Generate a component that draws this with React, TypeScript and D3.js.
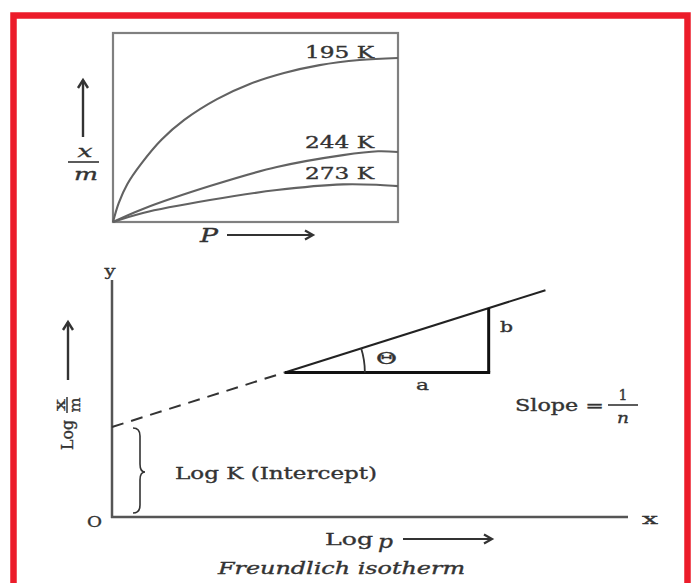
import React from "react";
import * as d3 from "d3";

// Upper panel: x/m versus p at three temperatures (0-100 units)
const P_195 = [0, 2, 5, 10, 17, 25, 36.5, 48, 60, 72.5, 86.5, 100];
const XM_195 = [0, 10, 20, 31, 43.5, 54, 65, 73, 78.8, 83, 85.7, 86.8];
const P_244 = [0, 10.5, 34, 57.5, 80.7, 93, 100];
const XM_244 = [0, 6.9, 19, 29.1, 35.4, 37.4, 37];
const P_273 = [0, 10.5, 34, 57.5, 80.7, 93.7, 100];
const XM_273 = [0, 4.8, 11.6, 16.9, 19.9, 19.6, 19];
const TEMPS = ["195 K", "244 K", "273 K"];

// Lower panel: log x/m versus log p (Freundlich line)
const LOGP_DASH = [0, 33.5];
const LOGXM_DASH = [38, 61];
const LOGP_SOLID = [33.5, 84];
const LOGXM_SOLID = [61, 95.7];
const TRI_LOGP = [33.5, 73];
const TRI_LOGXM = [61, 88.2];

const FONT = "'DejaVu Serif', 'Liberation Serif', serif";
const INK = "#333";

type TP = {
  x: number; y: number; len?: number; anchor?: string; italic?: boolean;
  size?: number; children: React.ReactNode; fill?: string;
};
const T = ({ x, y, len, anchor = "start", italic, size = 16, children, fill = INK }: TP) => (
  <text
    x={x}
    y={y}
    textLength={len}
    lengthAdjust={len ? "spacingAndGlyphs" : undefined}
    textAnchor={anchor}
    dominantBaseline="central"
    fontFamily={FONT}
    fontStyle={italic ? "italic" : "normal"}
    fontSize={size}
    fill={fill}
    stroke={fill}
    strokeWidth={0.35}
  >
    {children}
  </text>
);

const ArrowH = ({ x1, x2, y }: { x1: number; x2: number; y: number }) => (
  <g stroke={INK} strokeWidth={2} fill="none">
    <line x1={x1} y1={y} x2={x2} y2={y} />
    <path d={`M${x2 - 8},${y - 4.5} L${x2},${y} L${x2 - 8},${y + 4.5}`} strokeWidth={2.2} />
  </g>
);
const ArrowV = ({ x, y1, y2 }: { x: number; y1: number; y2: number }) => (
  <g stroke={INK} strokeWidth={2.4} fill="none">
    <line x1={x} y1={y2} x2={x} y2={y1} />
    <path d={`M${x - 5},${y1 + 8} L${x},${y1} L${x + 5},${y1 + 8}`} />
  </g>
);

export default function App() {
  const xs = d3.scaleLinear().domain([0, 100]).range([113, 398]);
  const ys = d3.scaleLinear().domain([0, 100]).range([222, 33]);
  const lx = d3.scaleLinear().domain([0, 100]).range([112, 628]);
  const ly = d3.scaleLinear().domain([0, 100]).range([517, 280]);

  const curve = d3
    .line<[number, number]>()
    .x((d) => xs(d[0]))
    .y((d) => ys(d[1]))
    .curve(d3.curveCatmullRom.alpha(0.5));
  const series = [
    d3.zip(P_195, XM_195) as [number, number][],
    d3.zip(P_244, XM_244) as [number, number][],
    d3.zip(P_273, XM_273) as [number, number][],
  ];
  const labelY = [52, 142, 173];

  const lin = d3
    .line<[number, number]>()
    .x((d) => lx(d[0]))
    .y((d) => ly(d[1]));
  const dash = d3.zip(LOGP_DASH, LOGXM_DASH) as [number, number][];
  const solid = d3.zip(LOGP_SOLID, LOGXM_SOLID) as [number, number][];

  const vx = lx(TRI_LOGP[0]);
  const vy = ly(TRI_LOGXM[0]);
  const rx = lx(TRI_LOGP[1]);
  const ty = ly(TRI_LOGXM[1]);
  const ang = Math.atan2(vy - ty, rx - vx);
  const r = 80;
  const arc = `M${vx + r},${vy} A${r},${r} 0 0 0 ${vx + r * Math.cos(ang)},${vy - r * Math.sin(ang)}`;

  const y0 = ly(0);
  const yK = ly(LOGXM_DASH[0]);

  return (
    <svg
      width={694}
      height={583}
      style={{ position: "absolute", left: 0, top: 0, background: "#fff" }}
    >
      <rect x={0} y={0} width={694} height={583} fill="#fff" />
      {/* red frame */}
      <path d="M13.5,590 L13.5,15.5 L687.5,15.5 L687.5,590" fill="none" stroke="#ec1c2a" strokeWidth={6.5} />

      {/* upper panel */}
      <rect x={113} y={33} width={285} height={189} fill="none" stroke="#808080" strokeWidth={2.2} />
      {series.map((s, i) => (
        <path key={i} d={curve(s) || ""} fill="none" stroke="#626262" strokeWidth={2.1} />
      ))}
      {TEMPS.map((t, i) => (
        <T key={t} x={305} y={labelY[i]} len={69}>{t}</T>
      ))}
      <ArrowV x={83} y1={80} y2={137} />
      <T x={85} y={151} anchor="middle" italic size={17} len={15}>x</T>
      <line x1={68} x2={99} y1={162} y2={162} stroke={INK} strokeWidth={1.6} />
      <T x={86} y={174} anchor="middle" italic size={17} len={24}>m</T>
      <T x={200} y={235} italic size={18} len={18}>P</T>
      <ArrowH x1={227} x2={313} y={235} />

      {/* lower panel axes */}
      <line x1={112} y1={280} x2={112} y2={y0 + 1} stroke="#555" strokeWidth={2.5} />
      <line x1={111} y1={y0} x2={628} y2={y0} stroke="#555" strokeWidth={2.5} />
      <T x={110} y={271} anchor="middle" size={15} len={11}>y</T>
      <T x={87} y={522} size={15} len={15}>O</T>
      <T x={642} y={519} size={15} len={16}>x</T>

      {/* y label rotated */}
      <ArrowV x={68} y1={322} y2={380} />
      <g transform="translate(67,424) rotate(-90)">
        <T x={-26} y={0} size={17} len={30}>Log</T>
        <T x={19} y={-7} anchor="middle" size={15} len={12}>x</T>
        <line x1={11} x2={27} y1={0} y2={0} stroke={INK} strokeWidth={1.5} />
        <T x={19} y={8} anchor="middle" size={15} len={15}>m</T>
      </g>

      {/* Freundlich line */}
      <path d={lin(dash) || ""} fill="none" stroke="#333" strokeWidth={2} strokeDasharray="12,8" />
      <path d={lin(solid) || ""} fill="none" stroke="#222" strokeWidth={2} />
      <line x1={vx} y1={vy} x2={rx + 1.5} y2={vy} stroke="#111" strokeWidth={3} />
      <line x1={rx} y1={vy} x2={rx} y2={ty} stroke="#111" strokeWidth={3} />
      <path d={arc} fill="none" stroke="#333" strokeWidth={1.8} />
      <T x={376} y={358} size={16} len={21}>Θ</T>
      <T x={416} y={385} size={15} len={13}>a</T>
      <T x={500} y={327} size={15} len={13}>b</T>
      <T x={515} y={405} size={16} len={89}>Slope =</T>
      <T x={623} y={395} anchor="middle" size={15} len={9}>1</T>
      <line x1={608} x2={638} y1={405} y2={405} stroke={INK} strokeWidth={1.6} />
      <T x={623} y={418} anchor="middle" italic size={15} len={12}>n</T>

      {/* intercept brace */}
      <path
        d={`M133,${yK + 1} Q140,${yK + 1} 140,${yK + 9} L140,464 Q140,472 145,472 Q140,472 140,480 L140,${y0 - 12} Q140,${y0 - 4} 133,${y0 - 4}`}
        fill="none"
        stroke={INK}
        strokeWidth={1.6}
      />
      <T x={175} y={473} size={16} len={202}>Log K (Intercept)</T>

      {/* x label and caption */}
      <T x={325} y={539} size={17} len={48}>Log</T>
      <T x={378} y={541} italic size={18} len={15}>p</T>
      <ArrowH x1={403} x2={492} y={539} />
      <T x={218} y={568} italic size={16} len={247}>Freundlich isotherm</T>
    </svg>
  );
}
